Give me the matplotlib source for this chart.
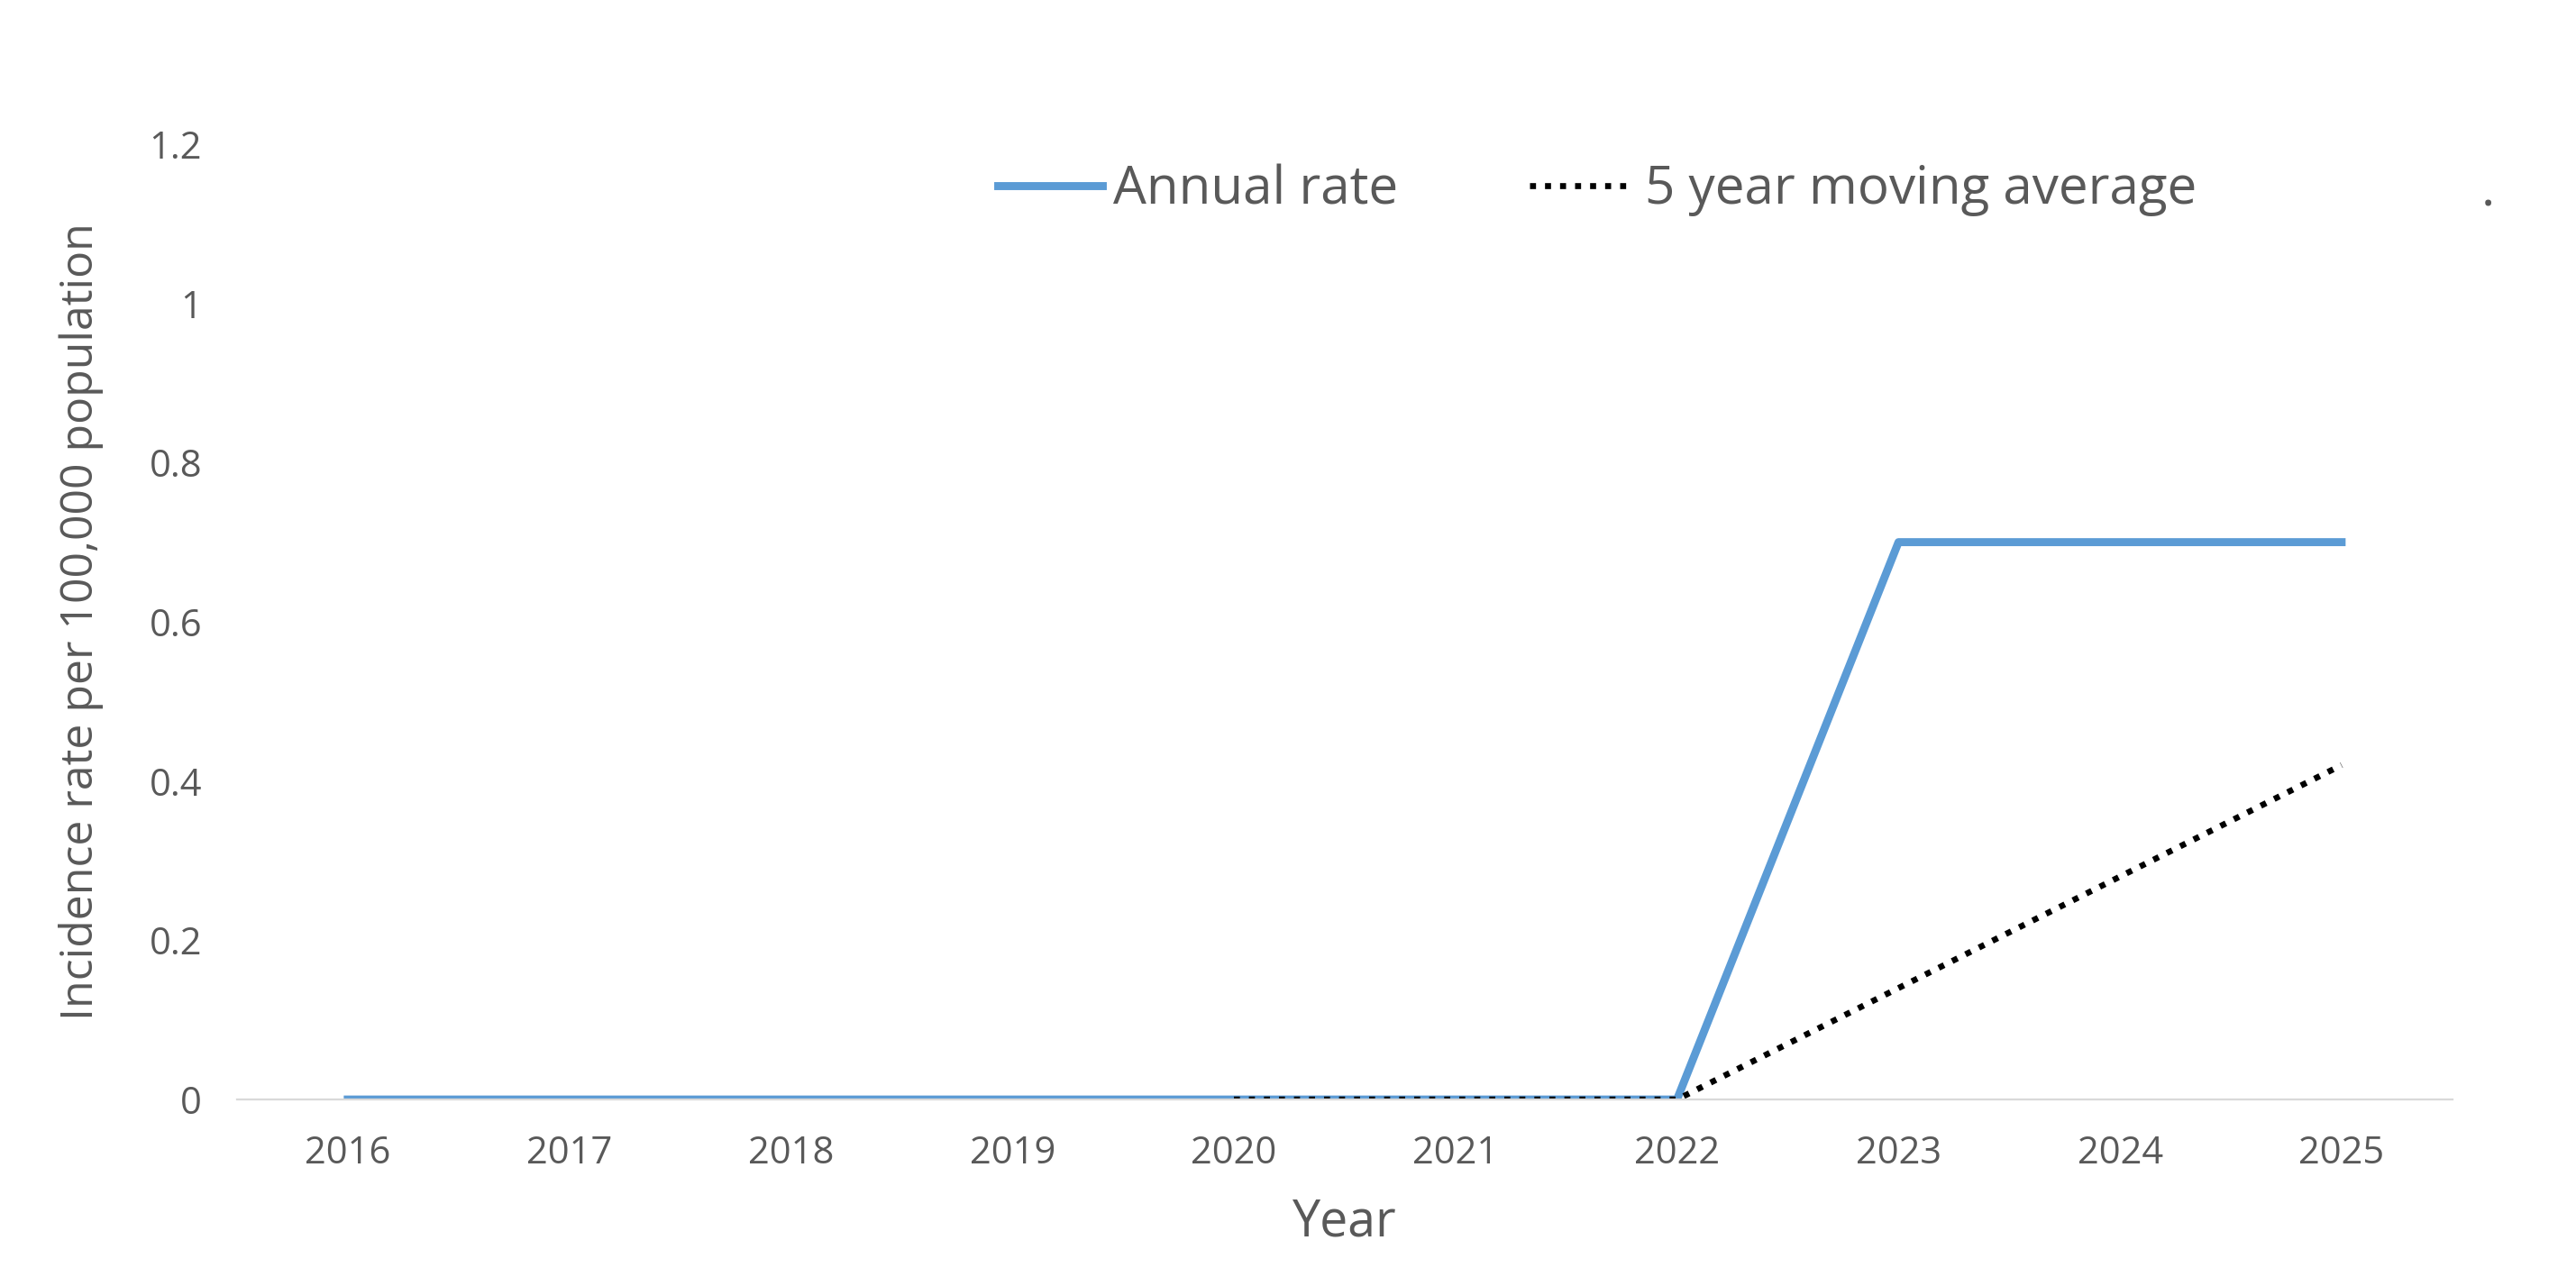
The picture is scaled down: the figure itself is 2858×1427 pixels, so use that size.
import matplotlib
matplotlib.use("Agg")
import matplotlib.pyplot as plt

years = [2016, 2017, 2018, 2019, 2020, 2021, 2022, 2023, 2024, 2025]
annual_rate = [0, 0, 0, 0, 0, 0, 0, 0.7, 0.7, 0.7]
ma_years = [2020, 2021, 2022, 2023, 2024, 2025]
moving_avg = [0, 0, 0, 0.14, 0.28, 0.42]
yticks = [0, 0.2, 0.4, 0.6, 0.8, 1, 1.2]
ytick_labels = ["0", "0.2", "0.4", "0.6", "0.8", "1", "1.2"]

plt.rcParams['font.family'] = ['Open Sans', 'DejaVu Sans']
grey = "#595959"
fig = plt.figure(figsize=(14.29, 7.135), dpi=200)
ax = fig.add_axes([0.092, 0.145, 0.86, 0.743])
ax.plot(years, annual_rate, color="#5B9BD5", lw=3.2, label="Annual rate")
ax.plot(ma_years, moving_avg, color="black", lw=2.4, ls=(0, (1, 1.5)), label="5 year moving average")
ax.set_xlim(2015.5, 2025.5)
ax.set_ylim(0, 1.2)
ax.set_xticks(years)
ax.set_xticklabels([str(y) for y in years])
ax.set_yticks(yticks)
ax.set_yticklabels(ytick_labels)
ax.tick_params(length=0, labelsize=15, colors=grey, pad=14)
for s in ["top", "right", "left"]:
    ax.spines[s].set_visible(False)
ax.spines["bottom"].set_color("#D9D9D9")
ax.set_xlabel("Year", fontsize=20, color=grey, labelpad=10)
ax.set_ylabel("Incidence rate per 100,000 population", fontsize=18, color=grey, labelpad=18)
leg = fig.legend(loc="center", bbox_to_anchor=(0.62, 0.852), ncol=2, frameon=False,
                 fontsize=21, handlelength=2.0, columnspacing=2.5, handletextpad=0.2)
for t in leg.get_texts():
    t.set_color(grey)
fig.text(0.963, 0.84, ".", fontsize=21, color=grey)
fig.savefig("out.png", dpi=200)
